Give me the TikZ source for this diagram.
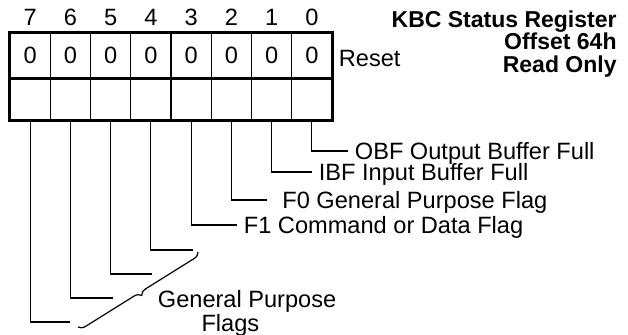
\documentclass[tikz,border=0pt]{standalone}
\usepackage{fontspec}
\setmainfont{Liberation Sans}
\usetikzlibrary{decorations.pathreplacing}
\begin{document}
\begin{tikzpicture}[x=0.5pt,y=-0.5pt,
    every node/.style={font=\fontsize{11.8}{10.75}\selectfont},
    cell/.style={draw,line width=0.65pt,inner sep=0pt,minimum width=20.125pt},
    frame/.style={line width=1.6pt},
    wire/.style={line width=0.6pt},
    lbl/.style={anchor=west,inner xsep=3.25pt,inner ysep=0pt,text height=8.4pt,text depth=0pt}]
  \useasboundingbox (0,0) rectangle (628,334);
  \foreach \b in {0,...,7}{
    \node[cell,minimum height=22.5pt] (top\b) at ({311.875-40.25*\b},55.5) {0};
    \node[cell,minimum height=21pt] (bot\b) at ({311.875-40.25*\b},99) {};
    \node (num\b) at ({311.875-40.25*\b},17.5) {\b};
  }
  \draw[frame] (top7.north west) rectangle (bot0.south east);
  \draw[frame] (top7.south west) -- (top0.south east);
  \node[lbl] (reset) at (332,58.5) {Reset};
  \node[font=\bfseries\fontsize{11.5}{11.25}\selectfont,align=right,anchor=north east,inner sep=0pt] (title) at (617,10) {KBC Status Register\\Offset 64h\\Read Only};
  \node[lbl] (obf) at (348,151) {OBF Output Buffer Full};
  \node[lbl] (ibf) at (312,172) {IBF Input Buffer Full};
  \node[lbl] (fzero) at (275.5,200) {F0 General Purpose Flag};
  \node[lbl] (fone) at (237,225) {F1 Command or Data Flag};
  \node[anchor=base west,align=left,inner xsep=3.25pt] (gpf) at (151,331) {General Purpose\\\hspace*{1.85em}Flags};
  \coordinate (g4) at (193,250);
  \coordinate (g5) at (152,274);
  \coordinate (g6) at (113,298);
  \coordinate (g7) at (70,322);
  \coordinate (bracetop) at (198,252);
  \coordinate (bracebot) at (78,327);
  \draw[wire] (bot0.south) |- (obf.west);
  \draw[wire] (bot1.south) |- (ibf.west);
  \draw[wire,shorten >=4.25pt] (bot2.south) |- (fzero.west);
  \draw[wire] (bot3.south) |- (fone.west);
  \foreach \b in {4,...,7}
    \draw[wire] (bot\b.south) |- (g\b);
  \draw[wire,decorate,decoration={brace,amplitude=3.5pt}] (bracetop) -- (bracebot);
\end{tikzpicture}
\end{document}
